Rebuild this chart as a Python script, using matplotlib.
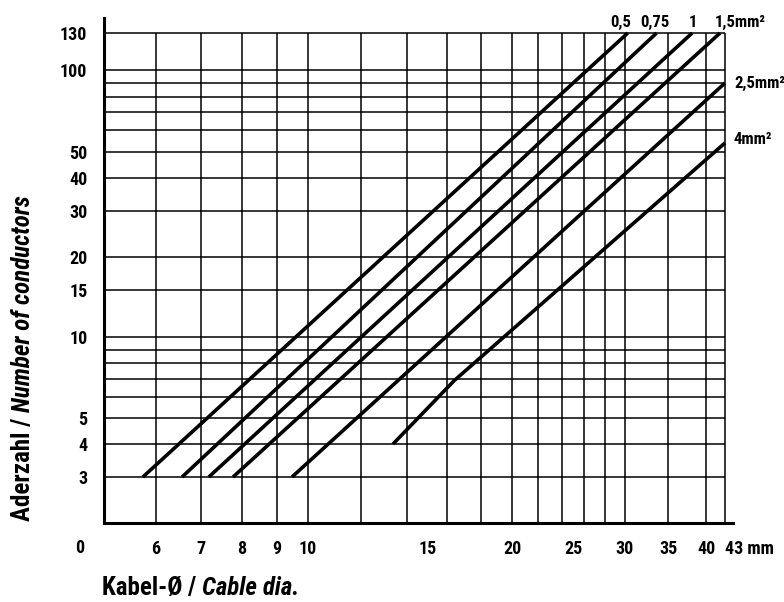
import numpy as np
import matplotlib
matplotlib.use('Agg')
from matplotlib import pyplot as plt

plt.rcParams['font.family'] = ['Roboto Condensed', 'Liberation Sans Narrow',
                               'DejaVu Sans Condensed', 'Roboto', 'DejaVu Sans']
plt.rcParams['font.stretch'] = 'condensed'
plt.rcParams['font.weight'] = 'bold'

# cable cross sections and their curves (cable diameter in mm, number of conductors)
sizes = ['0,5', '0,75', '1', '1,5mm²', '2,5mm²', '4mm²']
dia_05 = [5.73, 30.3]
n_05 = [3, 130]
dia_075 = [6.56, 33.6]
n_075 = [3, 130]
dia_1 = [7.18, 38.1]
n_1 = [3, 130]
dia_15 = [7.77, 42.2]
n_15 = [3, 130]
dia_25 = [9.47, 43]
n_25 = [3, 90]
dia_4 = [13.36, 16.4, 43]
n_4 = [4, 6.9, 53.9]
curves = [(dia_05, n_05), (dia_075, n_075), (dia_1, n_1),
          (dia_15, n_15), (dia_25, n_25), (dia_4, n_4)]

dia_grid = [6, 7, 8, 9, 10, 12, 14, 16, 18, 20, 22, 24, 26, 28, 30, 35, 40, 43]
dia_ticks = [6, 7, 8, 9, 10, 15, 20, 25, 30, 35, 40, 43]
dia_labels = ['6', '7', '8', '9', '10', '15', '20', '25', '30', '35', '40', '43 mm']
n_grid = [3, 4, 5, 6, 7, 8, 9, 10, 15, 20, 30, 40, 50, 60, 70, 80, 90, 100, 130]
n_ticks = [3, 4, 5, 10, 15, 20, 30, 40, 50, 100, 130]

# the printed scales are only roughly logarithmic: calibration points (value -> pixel)
x_cal_val = [5, 6, 7, 8, 9, 10, 12, 14, 16, 18, 20, 22, 24, 26, 28, 30, 35, 40, 43]
x_cal_px = [104, 156, 201, 242, 277, 308, 361, 407, 447, 481, 512, 538, 562, 584,
            605, 625, 668, 706, 725]
y_cal_val = [2, 3, 4, 5, 6, 7, 8, 9, 10, 15, 20, 30, 40, 50, 60, 70, 80, 90, 100, 130]
y_cal_px = [523, 477, 444, 418, 397, 379, 363, 350, 337, 290, 257, 211, 178, 152,
            130, 112, 97, 83, 70, 33]


def interp_ext(v, xp, fp):
    out = np.interp(v, xp, fp)
    lo = v < xp[0]
    hi = v > xp[-1]
    out = np.where(lo, fp[0] + (v - xp[0]) * (fp[1] - fp[0]) / (xp[1] - xp[0]), out)
    out = np.where(hi, fp[-1] + (v - xp[-1]) * (fp[-1] - fp[-2]) / (xp[-1] - xp[-2]), out)
    return out


def make_scale(vals, px):
    lv = np.log10(np.asarray(vals, float))
    p = np.asarray(px, float)

    def fwd(v):
        v = np.log10(np.clip(np.asarray(v, float), 1e-6, None))
        return interp_ext(v, lv, p)

    def inv(q):
        return 10 ** interp_ext(np.asarray(q, float), p, lv)
    return fwd, inv


fig = plt.figure(figsize=(7.84, 6.02), dpi=100)
ax = fig.add_axes([104 / 784, 1 - 523 / 602, 629 / 784, 505 / 602])
fx, ix = make_scale(x_cal_val, x_cal_px)
fy, iy = make_scale(y_cal_val, [-p for p in y_cal_px])
ax.set_xscale('function', functions=(fx, ix))
ax.set_yscale('function', functions=(fy, iy))
ax.set_xlim(5, float(ix(733)))
ax.set_ylim(2, float(iy(-18)))

ax.hlines(n_grid, 5, 43, color='black', lw=1.1)
ax.vlines(dia_grid, 2, 130, color='black', lw=1.1)

for (d, n) in curves:
    ax.plot(d, n, color='black', lw=2.6, solid_capstyle='butt')

# curve labels at the upper ends
offsets = [(-7, 11, 'center'), (-2, 11, 'center'), (1, 11, 'center'),
           (-5, 11, 'left'), (9, 0, 'left'), (8, 3, 'left')]
for lab, (d, n), (ox, oy, ha) in zip(sizes, curves, offsets):
    ax.annotate(lab, xy=(d[-1], n[-1]), xytext=(ox, oy), textcoords='offset pixels',
                ha=ha, va='center', fontsize=12)

for s in ['top', 'right']:
    ax.spines[s].set_visible(False)
for s in ['left', 'bottom']:
    ax.spines[s].set_linewidth(2.2)

ax.set_xticks(dia_ticks, dia_labels)
ax.set_yticks(n_ticks, [str(v) for v in n_ticks])
ax.set_xticks([15, 25], minor=True)
ax.set_yticks([], minor=True)
ax.tick_params(axis='x', which='major', length=0, pad=12, labelsize=13)
ax.tick_params(axis='x', which='minor', direction='in', length=4.5, width=1)
ax.tick_params(axis='y', which='major', length=0, pad=12, labelsize=13)
ax.get_xticklabels()[-1].set_horizontalalignment('left')
ax.text(-0.038, -0.05, '0', transform=ax.transAxes, ha='center', va='center',
        fontsize=13)

# axis titles: German upright, English italic
t1 = fig.text(23 / 784, 1 - 521 / 602, 'Aderzahl / ', rotation=90,
              ha='center', va='bottom', fontsize=18)
ax.annotate('Number of conductors', xy=(0, 1), xycoords=t1, rotation=90,
            ha='left', va='bottom', fontsize=18, fontstyle='italic')
t2 = fig.text(102 / 784, 1 - 600 / 602, 'Kabel-Ø / ', ha='left', va='bottom',
              fontsize=18)
ax.annotate('Cable dia.', xy=(1, 0), xycoords=t2, ha='left', va='bottom',
            fontsize=18, fontstyle='italic')

fig.savefig('out.png', dpi=100)
